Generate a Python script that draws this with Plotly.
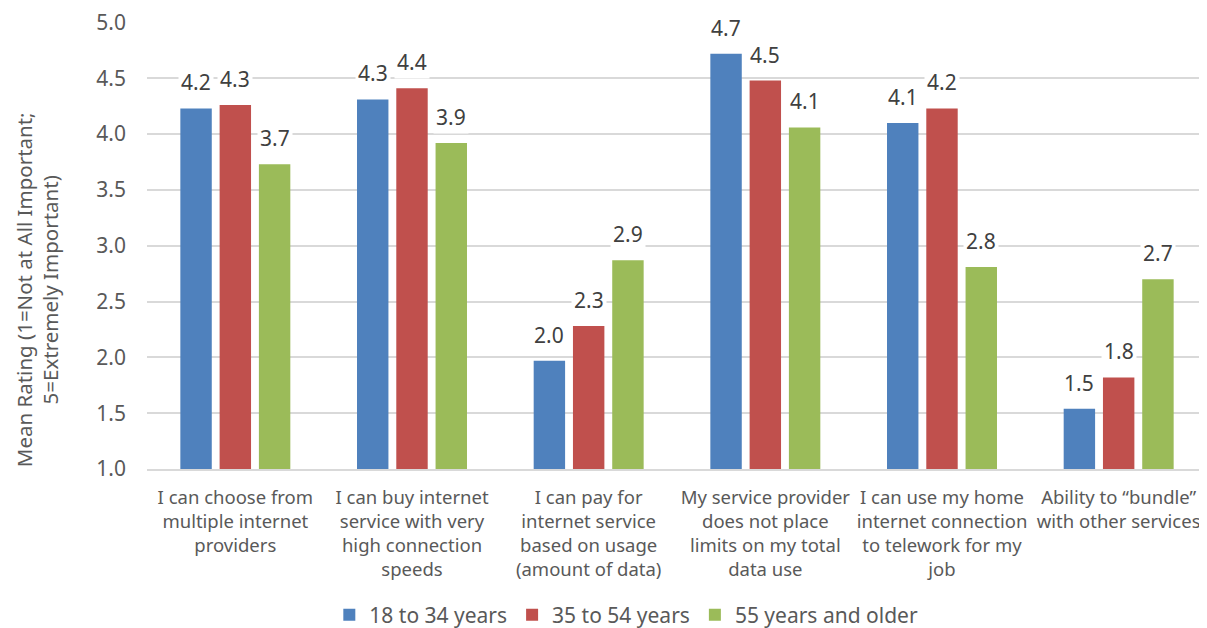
import plotly.graph_objects as go

categories = [
    "I can choose from<br>multiple internet<br>providers",
    "I can buy internet<br>service with very<br>high connection<br>speeds",
    "I can pay for<br>internet service<br>based on usage<br>(amount of data)",
    "My service provider<br>does not place<br>limits on my total<br>data use",
    "I can use my home<br>internet connection<br>to telework for my<br>job",
    "Ability to “bundle”<br>with other services",
]
series_names = ["18 to 34 years", "35 to 54 years", "55 years and older"]
vals_18_34 = [4.23, 4.31, 1.97, 4.72, 4.10, 1.54]
vals_35_54 = [4.26, 4.41, 2.28, 4.48, 4.23, 1.82]
vals_55 = [3.73, 3.92, 2.87, 4.06, 2.81, 2.70]
y_ticks = [1.0, 1.5, 2.0, 2.5, 3.0, 3.5, 4.0, 4.5, 5.0]
y_title = "Mean Rating (1=Not at All Important;<br>5=Extremely Important)"
colors = ["#4F81BD", "#C0504D", "#9BBB59"]

# page body has an 8px margin, so the figure is sized to fit the window
W, H = 1199, 620
ML, MR, MT, MB = 139, 0, 14, 159
BARGAP = 0.333
FONT = "Noto Sans"
TXT = "#595959"

fig = go.Figure()
all_vals = [vals_18_34, vals_35_54, vals_55]
for name, vals, col in zip(series_names, all_vals, colors):
    fig.add_trace(go.Bar(x=categories, y=vals, name=name, marker_color=col,
                         marker_line_width=0))

plot_w = W - ML - MR
slot = plot_w / len(categories) * (1 - BARGAP) / 3
annotations = []
for i, vals in enumerate(all_vals):
    for cat, v in zip(categories, vals):
        annotations.append(dict(
            x=cat, y=v, xref="x", yref="y", text=f"{v:.1f}",
            showarrow=False, yanchor="bottom", xanchor="center",
            xshift=(i - 1) * slot, yshift=9, bgcolor="white", borderpad=2,
            font=dict(family=FONT, size=21, color="#404040"),
        ))
# y-axis title (offset below centre, as in the reference)
annotations.append(dict(
    x=0, y=0.40, xref="paper", yref="paper", text=y_title, textangle=-90,
    showarrow=False, xanchor="center", yanchor="middle", xshift=-110,
    font=dict(family=FONT, size=20.5, color=TXT),
))

fig.update_layout(
    width=W, height=H,
    margin=dict(l=ML, r=MR, t=MT, b=MB, autoexpand=False),
    paper_bgcolor="white", plot_bgcolor="white",
    barmode="group", bargap=BARGAP, bargroupgap=0.2,
    font=dict(family=FONT, size=18, color=TXT),
    annotations=annotations,
    legend=dict(orientation="h", x=0.172, xanchor="left", y=-0.327, yanchor="middle",
                font=dict(family=FONT, size=21, color=TXT), traceorder="normal",
                itemwidth=30),
    showlegend=True,
)
fig.update_yaxes(range=[1, 5.004], tickmode="array", tickvals=y_ticks,
                 ticktext=[f"{t:.1f}" for t in y_ticks], automargin=False,
                 ticklabeloverflow="allow",
                 showgrid=True, gridcolor="#D9D9D9", gridwidth=1.5,
                 zeroline=False, showline=False, ticks="", ticklabelstandoff=20,
                 tickfont=dict(family=FONT, size=21, color=TXT))
fig.update_xaxes(showline=True, linecolor="#D9D9D9", linewidth=1.5, ticks="",
                 automargin=False, ticklabelstandoff=11, ticklabeloverflow="allow",
                 tickfont=dict(family=FONT, size=18.5, color=TXT), tickangle=0)

fig.write_html("out.html")
